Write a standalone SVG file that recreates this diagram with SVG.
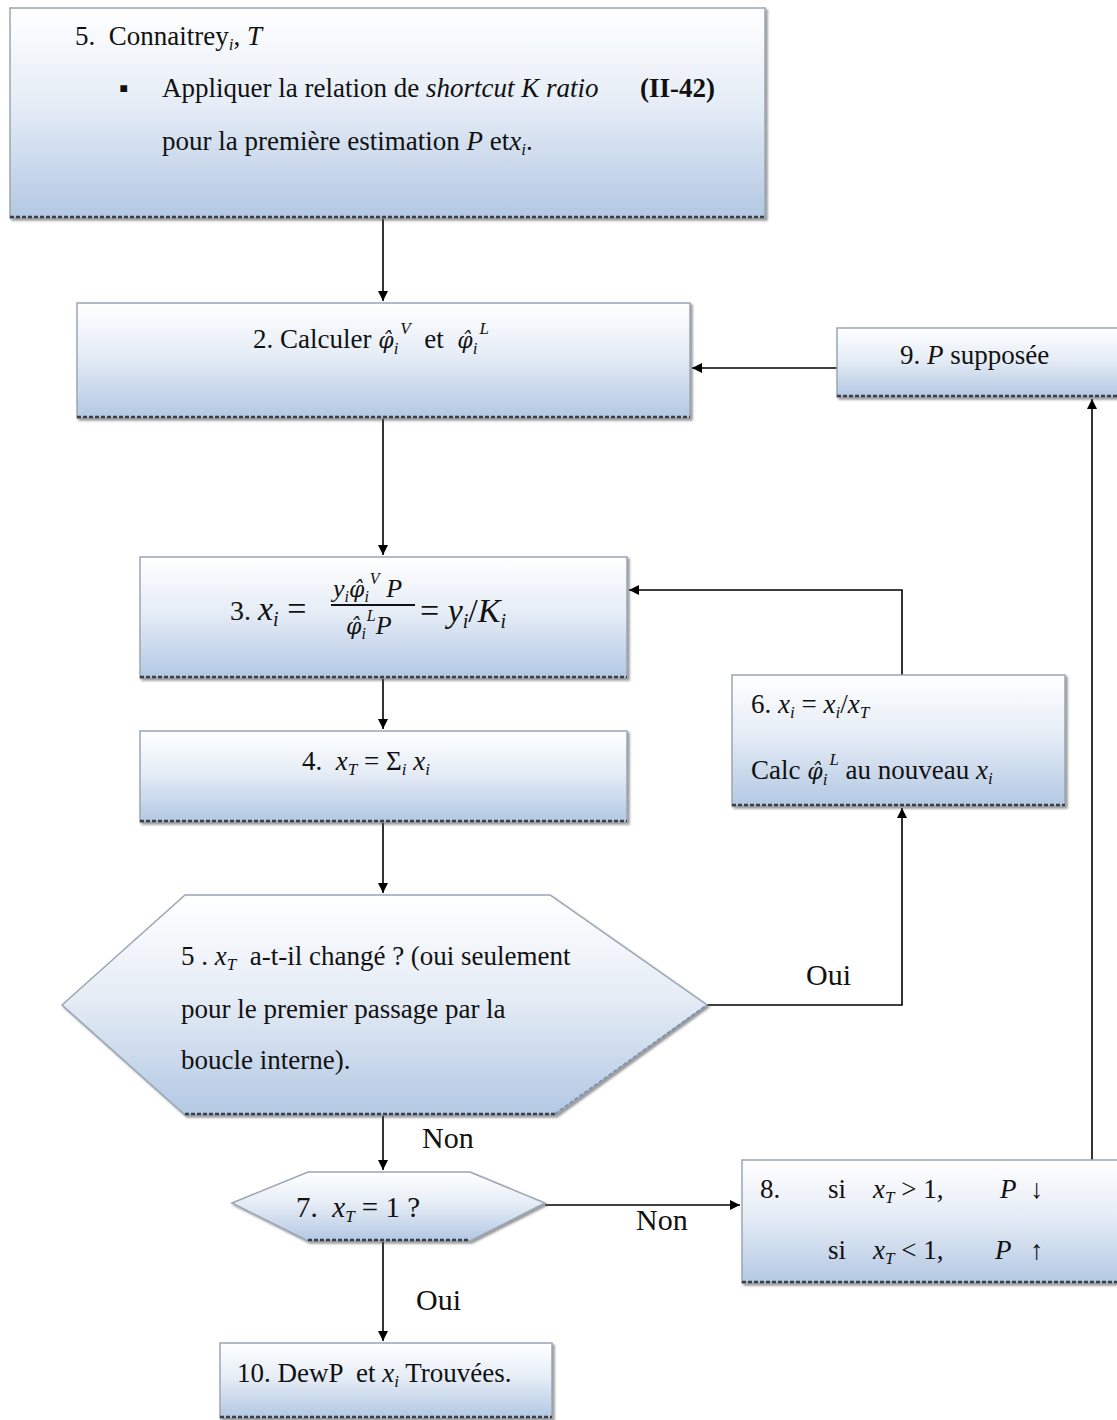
<svg xmlns="http://www.w3.org/2000/svg" width="1117" height="1420" viewBox="0 0 1117 1420">
<defs>
<linearGradient id="g" x1="0" y1="0" x2="0" y2="1">
<stop offset="0" stop-color="#ffffff"/>
<stop offset="0.45" stop-color="#e6edf6"/>
<stop offset="1" stop-color="#b3c8e3"/>
</linearGradient>
<marker id="ah" viewBox="0 0 10 10" refX="10" refY="5" markerWidth="10" markerHeight="10" markerUnits="userSpaceOnUse" orient="auto">
<path d="M0,0 L10,5 L0,10 z" fill="#000"/>
</marker>
<filter id="sh" x="-5%" y="-5%" width="110%" height="115%">
<feDropShadow dx="2" dy="2" stdDeviation="1" flood-color="#555" flood-opacity="0.6"/>
</filter>
</defs>
<style>
.box{fill:url(#g);stroke:#9aa6b4;stroke-width:1.5;filter:url(#sh)}
.bot{stroke:#3a3f46;stroke-width:2.5;stroke-dasharray:4 2;fill:none}
.t{font-family:"Liberation Serif","Times New Roman",serif;font-size:27px;fill:#111;white-space:pre}
.i{font-style:italic}
.s{font-size:17px}
.ph{font-family:"DejaVu Serif",serif;font-style:italic;font-size:22px}
.c{stroke:#000;stroke-width:1.6;fill:none}
.lbl{font-family:"Liberation Serif","Times New Roman",serif;font-size:30px;fill:#111}
</style>

<g id="connectors">
<path class="c" d="M383,218 V301" marker-end="url(#ah)"/>
<path class="c" d="M383,418 V555" marker-end="url(#ah)"/>
<path class="c" d="M837,368 H692" marker-end="url(#ah)"/>
<path class="c" d="M383,678 V729" marker-end="url(#ah)"/>
<path class="c" d="M383,822 V893" marker-end="url(#ah)"/>
<path class="c" d="M707,1005 H902 V808" marker-end="url(#ah)"/>
<path class="c" d="M902,675 V590 H629" marker-end="url(#ah)"/>
<path class="c" d="M383,1115 V1170" marker-end="url(#ah)"/>
<path class="c" d="M545,1205 H740" marker-end="url(#ah)"/>
<path class="c" d="M1092,1160 V399" marker-end="url(#ah)"/>
<path class="c" d="M383,1240 V1341" marker-end="url(#ah)"/>
<text class="lbl" x="806" y="985">Oui</text>
<text class="lbl" x="422" y="1148">Non</text>
<text class="lbl" x="636" y="1230">Non</text>
<text class="lbl" x="416" y="1310">Oui</text>
</g>

<g id="n1">
<rect class="box" x="10" y="8" width="755" height="210"/>
<line class="bot" x1="10" y1="217" x2="765" y2="217"/>
<text class="t" x="75" y="45">5.  Connaitrey<tspan class="i s" dy="5">i</tspan><tspan dy="-5">, </tspan><tspan class="i">T</tspan></text>
<text class="t" x="119" y="97">▪</text>
<text class="t" x="162" y="97">Appliquer la relation de <tspan class="i">shortcut K ratio</tspan></text>
<text class="t" x="640" y="97" font-weight="bold">(II-42)</text>
<text class="t" x="162" y="150">pour la première estimation <tspan class="i">P</tspan> et<tspan class="i">x</tspan><tspan class="i s" dy="5">i</tspan><tspan dy="-5">.</tspan></text>
</g>

<g id="n2">
<rect class="box" x="77" y="303" width="613" height="115"/>
<line class="bot" x1="77" y1="417" x2="690" y2="417"/>
<text class="t" x="253" y="348">2. Calculer <tspan class="ph">φ̂</tspan><tspan class="i s" dy="6">i</tspan><tspan class="i s" dx="2" dy="-20">V</tspan><tspan dy="14">  et  </tspan><tspan class="ph">φ̂</tspan><tspan class="i s" dy="6">i</tspan><tspan class="i s" dx="2" dy="-20">L</tspan></text>
</g>

<g id="n9">
<rect class="box" x="837" y="328" width="290" height="69"/>
<line class="bot" x1="837" y1="396" x2="1117" y2="396"/>
<text class="t" x="900" y="364">9. <tspan class="i">P</tspan> supposée</text>
</g>

<g id="n3">
<rect class="box" x="140" y="557" width="487" height="121"/>
<line class="bot" x1="140" y1="677" x2="627" y2="677"/>
<text class="t" x="230" y="620" style="font-size:28px">3. <tspan class="i" style="font-size:34px">x</tspan><tspan class="i" style="font-size:20px" dy="6">i</tspan><tspan dy="-6" style="font-size:34px"> = </tspan></text>
<text class="t i" x="333" y="597" style="font-size:26px">y<tspan style="font-size:16px" dy="5">i</tspan><tspan class="ph" dy="-5">φ̂</tspan><tspan style="font-size:16px" dy="5">i</tspan><tspan style="font-size:16px" dx="1" dy="-18">V</tspan><tspan dy="13"> P</tspan></text>
<line x1="331" y1="605" x2="415" y2="605" stroke="#111" stroke-width="1.8"/>
<text class="t i" x="346" y="634" style="font-size:26px"><tspan class="ph">φ̂</tspan><tspan style="font-size:16px" dy="5">i</tspan><tspan style="font-size:16px" dx="1" dy="-18">L</tspan><tspan dy="13">P</tspan></text>
<text class="t" x="420" y="622" style="font-size:34px">= <tspan class="i">y</tspan><tspan class="i" style="font-size:20px" dy="6">i</tspan><tspan dy="-6">/</tspan><tspan class="i">K</tspan><tspan class="i" style="font-size:20px" dy="6">i</tspan></text>
</g>

<g id="n4">
<rect class="box" x="140" y="731" width="487" height="91"/>
<line class="bot" x1="140" y1="821" x2="627" y2="821"/>
<text class="t" x="302" y="770">4.  <tspan class="i">x</tspan><tspan class="i s" dy="5">T</tspan><tspan dy="-5"> = Σ</tspan><tspan class="i s" dy="5">i</tspan><tspan class="i" dy="-5"> x</tspan><tspan class="i s" dy="5">i</tspan></text>
</g>

<g id="n6">
<rect class="box" x="732" y="675" width="333" height="131"/>
<line class="bot" x1="732" y1="805" x2="1065" y2="805"/>
<text class="t" x="751" y="713">6. <tspan class="i">x</tspan><tspan class="i s" dy="5">i</tspan><tspan dy="-5"> = </tspan><tspan class="i">x</tspan><tspan class="i s" dy="5">i</tspan><tspan dy="-5">/</tspan><tspan class="i">x</tspan><tspan class="i s" dy="5">T</tspan></text>
<text class="t" x="751" y="779">Calc <tspan class="ph">φ̂</tspan><tspan class="i s" dy="6">i</tspan><tspan class="i s" dx="2" dy="-20">L</tspan><tspan dy="14"> au nouveau </tspan><tspan class="i">x</tspan><tspan class="i s" dy="5">i</tspan></text>
</g>

<g id="n5">
<polygon class="box" points="62,1005 185,895 550,895 707,1005 555,1115 185,1115"/>
<line class="bot" x1="185" y1="1114" x2="555" y2="1114"/>
<line class="bot" x1="555" y1="1114" x2="707" y2="1005" style="stroke:#7f93ad;stroke-width:2"/>
<text class="t" x="181" y="965">5 . <tspan class="i">x</tspan><tspan class="i s" dy="5">T</tspan><tspan dy="-5">  a-t-il changé ? (oui seulement</tspan></text>
<text class="t" x="181" y="1018">pour le premier passage par la</text>
<text class="t" x="181" y="1069">boucle interne).</text>
</g>

<g id="n7">
<polygon class="box" points="232,1203 308,1172 470,1172 545,1203 470,1241 308,1241"/>
<line class="bot" x1="308" y1="1240" x2="470" y2="1240"/>
<text class="t" x="296" y="1217" style="font-size:29px">7.  <tspan class="i">x</tspan><tspan class="i s" dy="5">T</tspan><tspan dy="-5"> = 1 ?</tspan></text>
</g>

<g id="n8">
<rect class="box" x="742" y="1160" width="385" height="123"/>
<line class="bot" x1="742" y1="1282" x2="1117" y2="1282"/>
<text class="t" x="760" y="1198">8.</text>
<text class="t" x="828" y="1198">si</text>
<text class="t" x="873" y="1198"><tspan class="i">x</tspan><tspan class="i s" dy="5">T</tspan><tspan dy="-5"> &gt; 1,</tspan></text>
<text class="t i" x="1000" y="1198">P</text>
<text class="t" x="1030" y="1198">↓</text>
<text class="t" x="828" y="1259">si</text>
<text class="t" x="873" y="1259"><tspan class="i">x</tspan><tspan class="i s" dy="5">T</tspan><tspan dy="-5"> &lt; 1,</tspan></text>
<text class="t i" x="995" y="1259">P</text>
<text class="t" x="1030" y="1259">↑</text>
</g>

<g id="n10">
<rect class="box" x="220" y="1343" width="332" height="75"/>
<line class="bot" x1="220" y1="1417" x2="552" y2="1417"/>
<text class="t" x="237" y="1382">10. DewP  et <tspan class="i">x</tspan><tspan class="i s" dy="5">i</tspan><tspan dy="-5"> Trouvées.</tspan></text>
</g>
</svg>
